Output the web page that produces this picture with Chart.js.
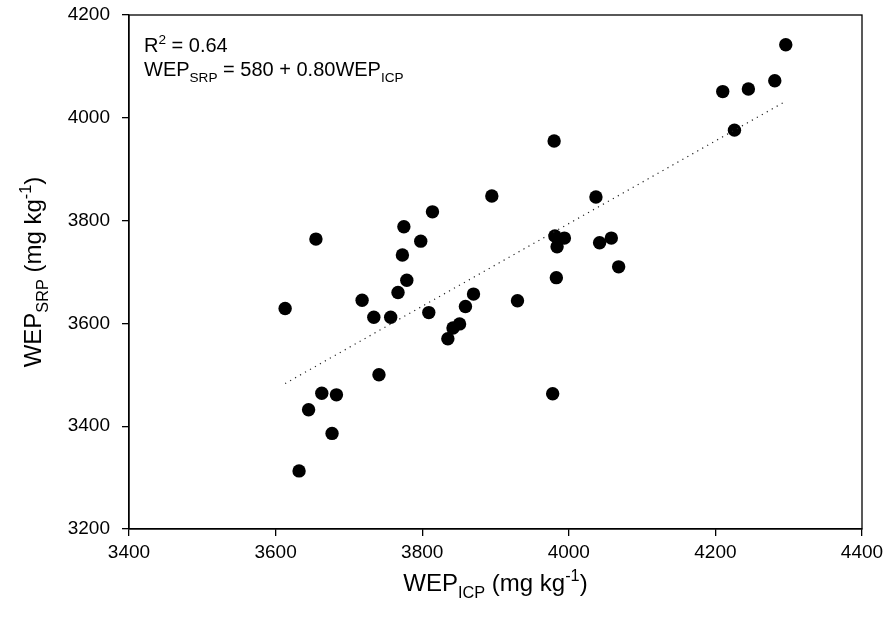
<!DOCTYPE html>
<html>
<head>
<meta charset="utf-8">
<script src="https://cdn.jsdelivr.net/npm/chart.js@4.4.1/dist/chart.umd.min.js"></script>
<style>
  html, body { margin: 0; padding: 0; background: #fff; }
  #wrap { width: 888px; height: 624px; }
</style>
</head>
<body>
<div id="wrap"><canvas id="grafico" width="888" height="624"></canvas></div>
<script>
// valores (WEP ICP x WEP SRP, mg/kg)
const wepIcp = [3613, 3632, 3645, 3655, 3663, 3677, 3683, 3718, 3734, 3741,
    3757, 3767, 3773, 3775, 3779, 3798, 3809, 3814, 3835, 3842,
    3851, 3859, 3870, 3895, 3930, 3978, 3980, 3981, 3983, 3984,
    3994, 4037, 4042, 4058, 4068, 4210, 4226, 4245, 4281, 4296];
const wepSrp = [3629, 3313, 3432, 3764, 3464, 3386, 3461, 3645, 3612, 3500,
    3612, 3660, 3733, 3788, 3684, 3760, 3621, 3817, 3570, 3591,
    3599, 3633, 3657, 3848, 3644, 3463, 3955, 3770, 3689, 3749,
    3766, 3846, 3757, 3766, 3710, 4051, 3976, 4056, 4072, 4142];

// reta de regressão (extremos)
const retaX = [3613, 4297];
const retaY = [3483, 4033];

const ticksX = [3400, 3600, 3800, 4000, 4200, 4400];
const ticksY = [3200, 3400, 3600, 3800, 4000, 4200];

const fonte = '"Liberation Sans", Arial, sans-serif';

// desenha texto com sub/sobrescrito
function textoRico(ctx, partes, x, y, tam, alinhar) {
    let largura = 0;
    partes.forEach(function (p) {
        let t = p.tipo ? tam * 0.68 : tam;
        ctx.font = t + 'px ' + fonte;
        p.w = ctx.measureText(p.t).width;
        largura += p.w;
    });
    let cx = alinhar == 'center' ? x - largura / 2 : x;
    ctx.textAlign = 'left';
    ctx.textBaseline = 'alphabetic';
    ctx.fillStyle = '#000';
    partes.forEach(function (p) {
        let t = p.tipo ? tam * 0.68 : tam;
        let dy = 0;
        if (p.tipo == 'sub') dy = tam * 0.3;
        if (p.tipo == 'sup') dy = -tam * 0.42;
        ctx.font = t + 'px ' + fonte;
        ctx.fillText(p.t, cx, y + dy);
        cx += p.w;
    });
}

const pluginExtras = {
    id: 'extras',
    afterDraw: function (chart) {
        const ctx = chart.ctx;
        const a = chart.chartArea;
        ctx.save();
        // moldura
        ctx.strokeStyle = '#000';
        ctx.lineWidth = 1.3;
        ctx.strokeRect(a.left, a.top, a.right - a.left, a.bottom - a.top);

        // título eixo x
        textoRico(ctx, [
            { t: 'WEP' }, { t: 'ICP', tipo: 'sub' }, { t: ' (mg kg' }, { t: '-1', tipo: 'sup' }, { t: ')' }
        ], (a.left + a.right) / 2, 591, 24, 'center');

        // título eixo y
        ctx.save();
        ctx.translate(41, (a.top + a.bottom) / 2);
        ctx.rotate(-Math.PI / 2);
        textoRico(ctx, [
            { t: 'WEP' }, { t: 'SRP', tipo: 'sub' }, { t: ' (mg kg' }, { t: '-1', tipo: 'sup' }, { t: ')' }
        ], 0, 0, 24, 'center');
        ctx.restore();

        // equação
        textoRico(ctx, [{ t: 'R' }, { t: '2', tipo: 'sup' }, { t: ' = 0.64' }], a.left + 15, 52, 20, 'left');
        textoRico(ctx, [
            { t: 'WEP' }, { t: 'SRP', tipo: 'sub' }, { t: ' = 580 + 0.80WEP' }, { t: 'ICP', tipo: 'sub' }
        ], a.left + 15, 76, 20, 'left');
        ctx.restore();
    }
};

// sem folga extra dos rótulos, para a área do gráfico ficar fixa
function semFolga(s) {
    s.paddingTop = 0;
    s.paddingBottom = 0;
    s.paddingLeft = 0;
    s.paddingRight = 0;
}

const dadosPontos = wepIcp.map(function (v, i) { return { x: v, y: wepSrp[i] }; });
const dadosReta = retaX.map(function (v, i) { return { x: v, y: retaY[i] }; });

const config = {
    type: 'scatter',
    data: {
        datasets: [{
            label: 'reta',
            data: dadosReta,
            showLine: true,
            borderColor: '#222',
            borderWidth: 1.2,
            borderDash: [1.2, 4.5],
            pointRadius: 0
        }, {
            label: 'WEP',
            data: dadosPontos,
            backgroundColor: '#000',
            borderColor: '#000',
            pointRadius: 6.7,
            borderWidth: 0
        }]
    },
    options: {
        responsive: false,
        animation: false,
        layout: { padding: { top: 15, right: 26, left: 0, bottom: 0 } },
        plugins: {
            legend: { display: false },
            tooltip: { enabled: false }
        },
        scales: {
            x: {
                type: 'linear',
                min: 3400,
                max: 4400,
                afterBuildTicks: function (s) { s.ticks = ticksX.map(function (v) { return { value: v }; }); },
                afterFit: function (s) { s.height = 95; semFolga(s); },
                grid: { display: true, drawOnChartArea: false, drawTicks: true, tickLength: 7, color: '#000', lineWidth: 1.3 },
                border: { color: '#000', width: 1.3 },
                ticks: {
                    color: '#000', padding: 5, maxRotation: 0,
                    font: { family: fonte, size: 19 },
                    callback: function (v) { return String(v); }
                }
            },
            y: {
                type: 'linear',
                min: 3200,
                max: 4200,
                afterBuildTicks: function (s) { s.ticks = ticksY.map(function (v) { return { value: v }; }); },
                afterFit: function (s) { s.width = 129; semFolga(s); },
                grid: { display: true, drawOnChartArea: false, drawTicks: true, tickLength: 7, color: '#000', lineWidth: 1.3 },
                border: { color: '#000', width: 1.3 },
                ticks: {
                    color: '#000', padding: 12,
                    font: { family: fonte, size: 19 },
                    callback: function (v) { return String(v); }
                }
            }
        }
    },
    plugins: [pluginExtras]
};

let grafico = new Chart(document.getElementById('grafico'), config);
</script>
</body>
</html>
